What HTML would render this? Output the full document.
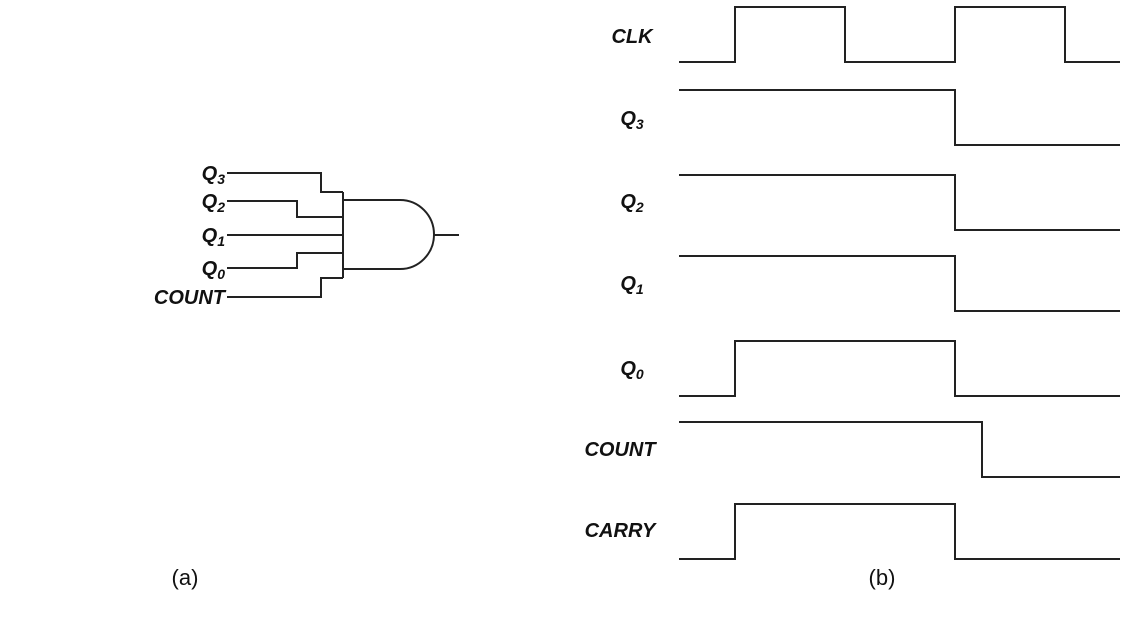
<!DOCTYPE html>
<html><head><style>body{margin:0;background:#fff}svg{display:block}</style></head><body>
<svg width="1139" height="621" xmlns="http://www.w3.org/2000/svg" font-family="Liberation Sans, sans-serif">
<g fill="none" stroke="#222" stroke-width="2">
<path d="M227 173H321V192H343M227 201H297V217H343M227 235H343M227 268H297V253H343M227 297H321V278H343M343 192V278"/>
<path d="M343 200H400A34 34.5 0 0 1 400 269H343M434 235H459"/>
<path d="M679 62H735V7H845V62H955V7H1065V62H1120"/>
<path d="M679 90H955V145H1120"/>
<path d="M679 175H955V230H1120"/>
<path d="M679 256H955V311H1120"/>
<path d="M679 396H735V341H955V396H1120"/>
<path d="M679 422H982V477H1120"/>
<path d="M679 559H735V504H955V559H1120"/>
</g>
<g font-weight="bold" font-style="italic" font-size="20" fill="#111" text-anchor="end">
<text x="225" y="180">Q<tspan font-size="14" dy="4">3</tspan></text>
<text x="225" y="208">Q<tspan font-size="14" dy="4">2</tspan></text>
<text x="225" y="242">Q<tspan font-size="14" dy="4">1</tspan></text>
<text x="225" y="275">Q<tspan font-size="14" dy="4">0</tspan></text>
<text x="225" y="304">COUNT</text>
</g>
<g font-weight="bold" font-style="italic" font-size="20" fill="#111" text-anchor="middle">
<text x="632" y="43">CLK</text>
<text x="632" y="125">Q<tspan font-size="14" dy="4">3</tspan></text>
<text x="632" y="208">Q<tspan font-size="14" dy="4">2</tspan></text>
<text x="632" y="290">Q<tspan font-size="14" dy="4">1</tspan></text>
<text x="632" y="375">Q<tspan font-size="14" dy="4">0</tspan></text>
<text x="620" y="456">COUNT</text>
<text x="620" y="537">CARRY</text>
</g>
<g font-size="22" fill="#111" text-anchor="middle">
<text x="185" y="585">(a)</text>
<text x="882" y="585">(b)</text>
</g>
</svg>
</body></html>
